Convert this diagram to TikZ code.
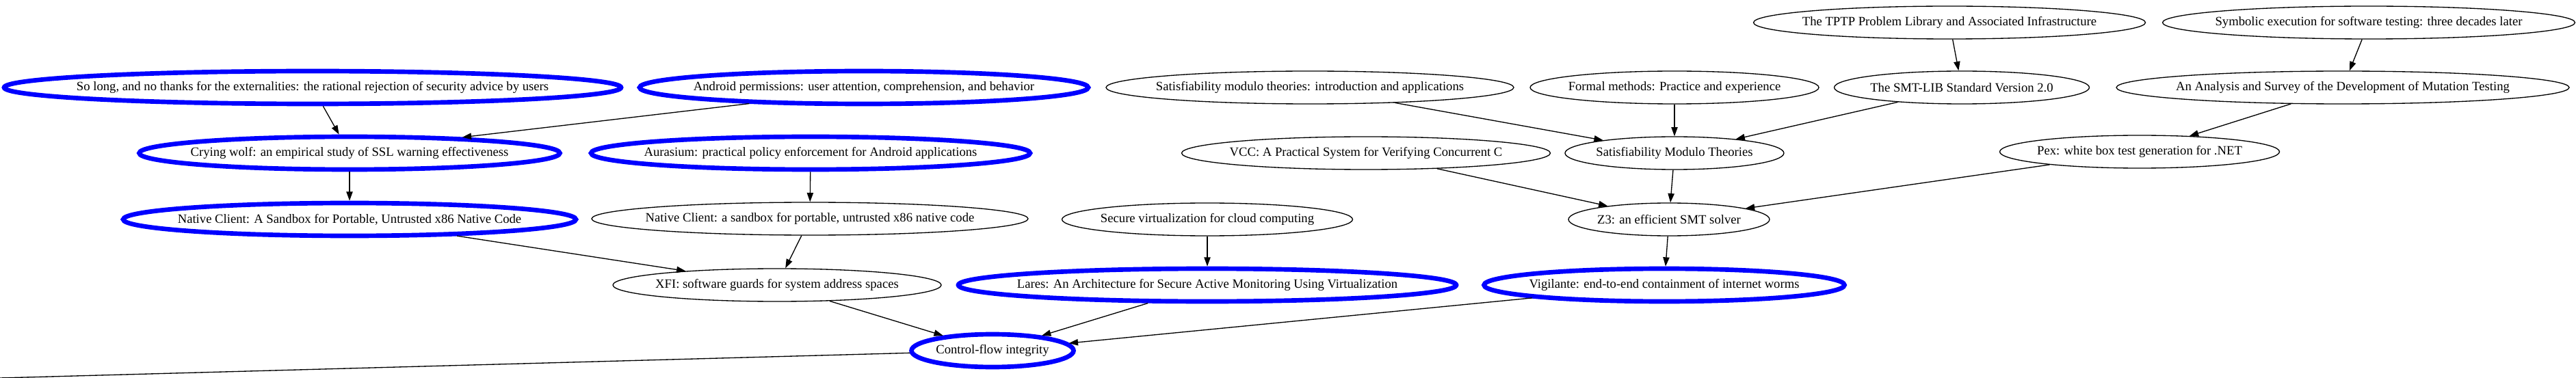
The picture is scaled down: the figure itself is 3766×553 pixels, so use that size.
\documentclass[tikz,border=0pt]{standalone}
\usepackage{fontspec}
\setmainfont{Liberation Serif}
\usetikzlibrary{arrows.meta,shapes.geometric}
\newcommand{\lbl}[1]{\makebox[0pt]{#1}}
\begin{document}
\begin{tikzpicture}[x=1pt,y=-1pt,
  paper/.style={ellipse, draw=black, line width=1.33pt, inner sep=0pt, minimum height=48pt, font=\fontsize{18.67}{22}\selectfont},
  key/.style={paper, draw=blue, line width=6.67pt},
  edge/.style={line width=1.33pt, -{Triangle[length=13.3pt,width=9.3pt]}},
  plain/.style={line width=1.33pt}]
\useasboundingbox (0,0) rectangle (3766,553);
% row 0
\node[paper, minimum width=573pt] (tptp) at (2850,33) {\lbl{The TPTP Problem Library and Associated Infrastructure}};
\node[paper, minimum width=603pt] (symb) at (3463,33) {\lbl{Symbolic execution for software testing: three decades later}};
% row 1
\node[key, minimum width=902pt] (solong) at (457,128) {\lbl{So long, and no thanks for the externalities: the rational rejection of security advice by users}};
\node[key, minimum width=656pt] (android) at (1263,128) {\lbl{Android permissions: user attention, comprehension, and behavior}};
\node[paper, minimum width=596pt] (satintro) at (1915,128) {\lbl{Satisfiability modulo theories: introduction and applications}};
\node[paper, minimum width=422pt] (formal) at (2448,128) {\lbl{Formal methods: Practice and experience}};
\node[paper, minimum width=373pt] (smtlib) at (2868,128) {\lbl{The SMT-LIB Standard Version 2.0}};
\node[paper, minimum width=662pt] (mutation) at (3425,128) {\lbl{An Analysis and Survey of the Development of Mutation Testing}};
% row 2
\node[key, minimum width=615pt] (crying) at (511,224) {\lbl{Crying wolf: an empirical study of SSL warning effectiveness}};
\node[key, minimum width=642pt] (aurasium) at (1185,224) {\lbl{Aurasium: practical policy enforcement for Android applications}};
\node[paper, minimum width=539pt] (vcc) at (1997,224) {\lbl{VCC: A Practical System for Verifying Concurrent C}};
\node[paper, minimum width=320pt] (smt) at (2448,224) {\lbl{Satisfiability Modulo Theories}};
\node[paper, minimum width=409pt] (pex) at (3128,222) {\lbl{Pex: white box test generation for .NET}};
% row 3
\node[key, minimum width=662pt] (nacla) at (511,321) {\lbl{Native Client: A Sandbox for Portable, Untrusted x86 Native Code}};
\node[paper, minimum width=638pt] (naclb) at (1184,320) {\lbl{Native Client: a sandbox for portable, untrusted x86 native code}};
\node[paper, minimum width=425pt] (secvirt) at (1765,321) {\lbl{Secure virtualization for cloud computing}};
\node[paper, minimum width=294pt] (z3) at (2440,321) {\lbl{Z3: an efficient SMT solver}};
% row 4
\node[paper, minimum width=480pt] (xfi) at (1136,417) {\lbl{XFI: software guards for system address spaces}};
\node[key, minimum width=728pt] (lares) at (1765,417) {\lbl{Lares: An Architecture for Secure Active Monitoring Using Virtualization}};
\node[key, minimum width=527pt] (vigilante) at (2433,417) {\lbl{Vigilante: end-to-end containment of internet worms}};
% row 5
\node[key, minimum width=237pt] (cfi) at (1451,513) {\lbl{Control-flow integrity}};
\coordinate (off) at (0,553);
% edges
\draw[edge] (solong) -- (crying);
\draw[edge] (android.188) -- (crying.8);
\draw[edge] (crying) -- (nacla);
\draw[edge] (aurasium) -- (naclb);
\draw[edge] (nacla) -- (xfi);
\draw[edge] (naclb) -- (xfi);
\draw[edge] (xfi) -- (cfi);
\draw[edge] (secvirt) -- (lares);
\draw[edge] (lares) -- (cfi);
\draw[edge] (vigilante) -- (cfi);
\draw[edge] (satintro) -- (smt);
\draw[edge] (formal) -- (smt);
\draw[edge] (smtlib) -- (smt);
\draw[edge] (tptp) -- (smtlib);
\draw[edge] (symb) -- (mutation);
\draw[edge] (mutation) -- (pex);
\draw[edge] (vcc) -- (z3);
\draw[edge] (smt) -- (z3);
\draw[edge] (pex) -- (z3);
\draw[edge] (z3) -- (vigilante);
\draw[plain] (cfi) -- (off);
\end{tikzpicture}
\end{document}
